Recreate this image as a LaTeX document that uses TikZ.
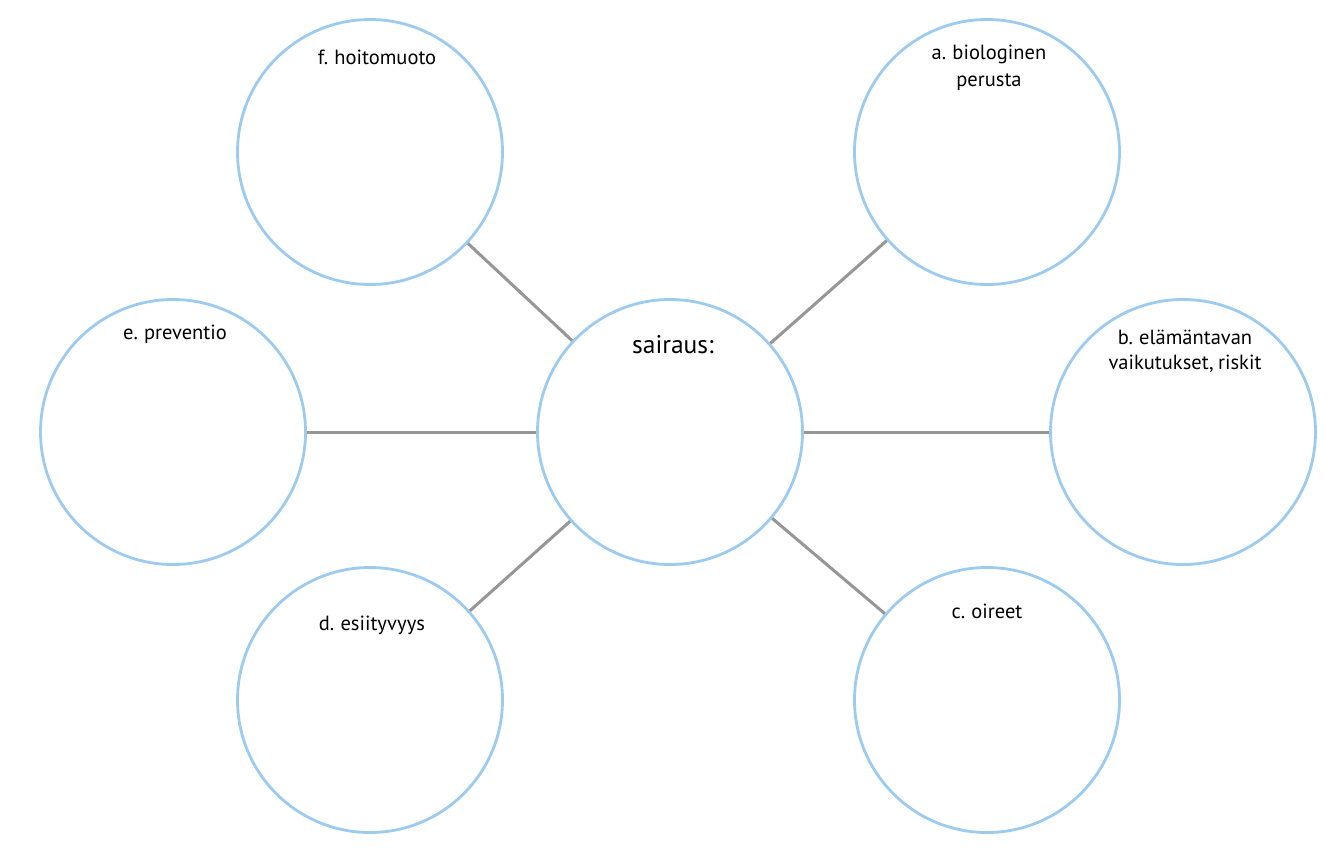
\documentclass[tikz,border=0pt]{standalone}
\usepackage{fontspec}
\setmainfont{PT Sans}[WordSpace=0.8]
\definecolor{ringblue}{RGB}{157,203,240}
\definecolor{linkgray}{RGB}{150,150,150}
\begin{document}
\begin{tikzpicture}[x=1pt,y=-1pt,
  ring/.style={circle,draw=ringblue,line width=2.8pt,minimum size=265pt,inner sep=0pt},
  link/.style={draw=linkgray,line width=3pt},
  lbl/.style={anchor=base,font=\fontsize{20.5}{20.5}\selectfont,inner sep=0pt},
  big/.style={anchor=base,font=\fontsize{25.5}{25.5}\selectfont,inner sep=0pt}]
\useasboundingbox[fill=white] (0,0) rectangle (1332,852);
\node[ring] (m) at (670,432) {};
\node[ring] (f) at (370,152) {};
\node[ring] (a) at (987,152) {};
\node[ring] (e) at (173,432) {};
\node[ring] (b) at (1183,432) {};
\node[ring] (d) at (370,700) {};
\node[ring] (c) at (987,700) {};
\draw[link] (m) -- (f);
\draw[link] (m) -- (a);
\draw[link] (m) -- (e);
\draw[link] (m) -- (b);
\draw[link] (m) -- (d);
\draw[link] (m) -- (c);
\node[big] (tm) at (673,353) {sairaus:};
\node[lbl] (tf) at (377,64) {f. hoitomuoto};
\node[lbl] (ta1) at (989,59) {a. biologinen};
\node[lbl] (ta2) at (989,86) {perusta};
\node[lbl] (te) at (175,339) {e. preventio};
\node[lbl] (tb1) at (1185,344) {b. elämäntavan};
\node[lbl] (tb2) at (1185,369) {vaikutukset, riskit};
\node[lbl] (td) at (372,630) {d. esiityvyys};
\node[lbl] (tc) at (987,618) {c. oireet};
\end{tikzpicture}
\end{document}
